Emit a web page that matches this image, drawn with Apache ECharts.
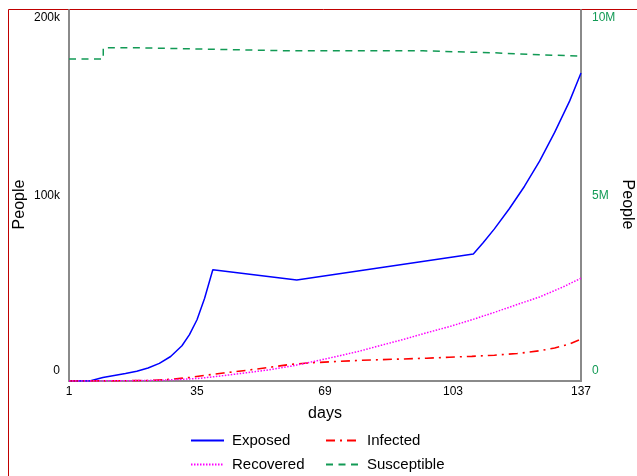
<!DOCTYPE html>
<html>
<head>
<meta charset="utf-8">
<script src="https://cdn.jsdelivr.net/npm/echarts@6/dist/echarts.min.js"></script>
<style>
  html, body { margin: 0; padding: 0; background: #fff; }
  #chart { width: 637px; height: 476px; }
</style>
</head>
<body>
<div id="chart"></div>
<script>
// Day ticks shown along the x axis
const dayTicks = [1, 35, 69, 103, 137];

// Left axis (people): [day, count]
const exposed = [
  [1, 0], [6.5, 0], [10, 1900], [13, 3000], [16, 4100], [19, 5300], [22, 7000],
  [25, 9500], [28, 13200], [31, 19000], [33, 25000], [35, 33000], [37, 44500],
  [39.2, 60000], [61.5, 54400], [108.4, 68500], [111, 74500], [114, 82000],
  [118, 93000], [122, 105000], [126, 118500], [130, 134000], [134, 151000], [137, 166000]
];
const infected = [
  [1, 0], [15, 100], [22, 300], [28, 900], [33, 1900], [37, 3000], [42, 4300],
  [48, 5700], [54, 7300], [60, 9000], [66, 9900], [72, 10500], [78, 11100],
  [84, 11500], [90, 11900], [96, 12300], [102, 12800], [108, 13300], [114, 13900],
  [120, 14800], [126, 16300], [130, 17800], [134, 20000], [137, 22600]
];
const recovered = [
  [1, 0], [15, 100], [25, 400], [30, 800], [36, 1500], [42, 2900], [48, 4400],
  [54, 6000], [60, 8000], [66, 10500], [72, 13200], [78, 16000], [84, 19300],
  [90, 22500], [96, 26000], [102, 29300], [108, 33000], [114, 37000], [120, 41200],
  [126, 45300], [132, 50500], [137, 55400]
];
// Right axis (people): [day, count]
const susceptible = [
  [1, 8680000], [10.1, 8680000], [10.1, 8980000], [20, 8980000], [33, 8955000],
  [45, 8930000], [60, 8900000], [95, 8900000], [103, 8875000], [113, 8850000],
  [120, 8820000], [127, 8790000], [133, 8770000], [137, 8755000]
];

const leftTicks = { 0: '0', 100000: '100k', 200000: '200k' };
const rightTicks = { 0: '0', 5000000: '5M', 10000000: '10M' };

const FONT = 'Liberation Sans, Arial, sans-serif';
const AXIS_GRAY = '#8a8a8a';
const GREEN = '#129a55';

function yLabel(map, maxVal) {
  return function (v) {
    const t = map[v];
    if (v === 0) return '{lo|' + t + '}';
    if (v === maxVal) return '{hi|' + t + '}';
    return '{mid|' + t + '}';
  };
}

function legendBlock(names, left) {
  return {
    data: names,
    orient: 'vertical',
    left: left, top: 433,
    height: 45,
    padding: 0,
    itemWidth: 33, itemHeight: 14, itemGap: 9,
    itemStyle: { opacity: 0 },
    textStyle: { fontFamily: FONT, fontSize: 15, color: '#000', padding: [0, 0, 0, 3] }
  };
}

const chart = echarts.init(document.getElementById('chart'), null, { renderer: 'canvas' });

chart.setOption({
  animation: false,
  backgroundColor: '#fff',
  graphic: [{
    type: 'rect',
    silent: true,
    z: -10,
    shape: { x: 8.5, y: 9.5, width: 800, height: 600 },
    style: { fill: 'none', stroke: '#c00000', lineWidth: 1 }
  }],
  grid: { left: 69, right: 56, top: 10, bottom: 95, containLabel: false, outerBoundsMode: 'none' },
  legend: [
    legendBlock(['Exposed', 'Recovered'], 190),
    legendBlock(['Infected', 'Susceptible'], 325)
  ],
  xAxis: {
    type: 'value',
    min: 1, max: 137,
    name: 'days',
    nameLocation: 'middle',
    nameGap: 25,
    nameMoveOverlap: false,
    nameTextStyle: { fontFamily: FONT, fontSize: 16, color: '#000', verticalAlign: 'top' },
    axisLine: { show: true, lineStyle: { color: AXIS_GRAY, width: 2 } },
    axisTick: { show: false },
    splitLine: { show: false },
    axisLabel: {
      customValues: dayTicks,
      margin: 5,
      fontFamily: FONT, fontSize: 12, color: '#000'
    }
  },
  yAxis: [
    {
      type: 'value',
      min: 0, max: 200000, interval: 100000,
      position: 'left',
      name: 'People',
      nameLocation: 'middle',
      nameGap: 41,
      nameRotate: 90,
      nameMoveOverlap: false,
      nameTextStyle: { fontFamily: FONT, fontSize: 16, color: '#000', padding: [0, 18, 0, 0] },
      axisLine: { show: true, onZero: false, lineStyle: { color: AXIS_GRAY, width: 2 } },
      axisTick: { show: false },
      splitLine: { show: false },
      axisLabel: {
        margin: 9,
        fontFamily: FONT, fontSize: 12, color: '#000',
        formatter: yLabel(leftTicks, 200000),
        rich: {
          lo: { fontFamily: FONT, fontSize: 12, color: '#000', padding: [0, 0, 20, 0] },
          mid: { fontFamily: FONT, fontSize: 12, color: '#000' },
          hi: { fontFamily: FONT, fontSize: 12, color: '#000', padding: [16, 0, 0, 0] }
        }
      }
    },
    {
      type: 'value',
      min: 0, max: 10000000, interval: 5000000,
      position: 'right',
      name: 'People',
      nameLocation: 'middle',
      nameGap: 38,
      nameRotate: -90,
      nameMoveOverlap: false,
      nameTextStyle: { fontFamily: FONT, fontSize: 16, color: '#000', padding: [0, 0, 0, 18] },
      axisLine: { show: true, onZero: false, lineStyle: { color: AXIS_GRAY, width: 2 } },
      axisTick: { show: false },
      splitLine: { show: false },
      axisLabel: {
        margin: 11,
        fontFamily: FONT, fontSize: 12, color: GREEN,
        formatter: yLabel(rightTicks, 10000000),
        rich: {
          lo: { fontFamily: FONT, fontSize: 12, color: GREEN, padding: [0, 0, 20, 0] },
          mid: { fontFamily: FONT, fontSize: 12, color: GREEN },
          hi: { fontFamily: FONT, fontSize: 12, color: GREEN, padding: [16, 0, 0, 0] }
        }
      }
    }
  ],
  series: [
    {
      name: 'Exposed', type: 'line', yAxisIndex: 0, data: exposed,
      symbol: 'none', smooth: false,
      lineStyle: { color: '#0000ff', width: 1.5, type: 'solid' },
      itemStyle: { color: '#0000ff' }
    },
    {
      name: 'Infected', type: 'line', yAxisIndex: 0, data: infected,
      symbol: 'none', smooth: false,
      lineStyle: { color: '#ff0000', width: 1.6, type: [9, 5, 2, 5] },
      itemStyle: { color: '#ff0000' }
    },
    {
      name: 'Recovered', type: 'line', yAxisIndex: 0, data: recovered,
      symbol: 'none', smooth: false,
      lineStyle: { color: '#ff00ff', width: 1.5, type: [1.5, 1.5] },
      itemStyle: { color: '#ff00ff' }
    },
    {
      name: 'Susceptible', type: 'line', yAxisIndex: 1, data: susceptible,
      symbol: 'none', smooth: false,
      lineStyle: { color: GREEN, width: 1.5, type: [7, 5.5] },
      itemStyle: { color: GREEN }
    }
  ]
});
</script>
</body>
</html>
